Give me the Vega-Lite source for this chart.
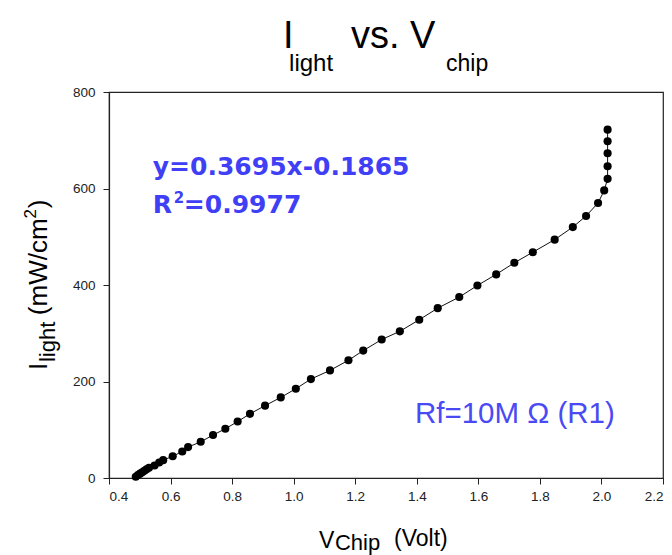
{
  "$schema": "https://vega.github.io/schema/vega-lite/v6.json",
  "width": 554,
  "height": 386,
  "autosize": {"type": "none"},
  "padding": {"left": 109, "top": 92, "right": 9, "bottom": 77},
  "background": "white",
  "config": {
    "view": {"stroke": "#222222", "strokeWidth": 1.2},
    "font": "Liberation Sans",
    "axis": {
      "grid": false,
      "domainColor": "#222222",
      "domainWidth": 1.2,
      "tickColor": "#222222",
      "tickSize": 6,
      "labelColor": "#222222",
      "labelFont": "Liberation Sans",
      "labelFontSize": 13.5,
      "title": null
    }
  },
  "datasets": {
    "curve": [
      {"k": 1, "v": 0.487, "i": 2.7},
      {"k": 2, "v": 0.494, "i": 6},
      {"k": 3, "v": 0.501, "i": 9},
      {"k": 4, "v": 0.508, "i": 12},
      {"k": 5, "v": 0.515, "i": 15},
      {"k": 6, "v": 0.522, "i": 18},
      {"k": 7, "v": 0.530, "i": 21},
      {"k": 8, "v": 0.548, "i": 26},
      {"k": 9, "v": 0.563, "i": 32},
      {"k": 10, "v": 0.576, "i": 37},
      {"k": 11, "v": 0.607, "i": 45},
      {"k": 12, "v": 0.638, "i": 55},
      {"k": 13, "v": 0.657, "i": 64},
      {"k": 14, "v": 0.698, "i": 75},
      {"k": 15, "v": 0.738, "i": 89},
      {"k": 16, "v": 0.778, "i": 102},
      {"k": 17, "v": 0.818, "i": 117},
      {"k": 18, "v": 0.858, "i": 133},
      {"k": 19, "v": 0.907, "i": 150},
      {"k": 20, "v": 0.958, "i": 167},
      {"k": 21, "v": 1.007, "i": 185},
      {"k": 22, "v": 1.056, "i": 205},
      {"k": 23, "v": 1.118, "i": 223},
      {"k": 24, "v": 1.178, "i": 244},
      {"k": 25, "v": 1.226, "i": 264},
      {"k": 26, "v": 1.286, "i": 287},
      {"k": 27, "v": 1.345, "i": 304},
      {"k": 28, "v": 1.408, "i": 328},
      {"k": 29, "v": 1.468, "i": 352},
      {"k": 30, "v": 1.538, "i": 375},
      {"k": 31, "v": 1.597, "i": 399},
      {"k": 32, "v": 1.658, "i": 422},
      {"k": 33, "v": 1.717, "i": 446},
      {"k": 34, "v": 1.777, "i": 468},
      {"k": 35, "v": 1.848, "i": 494},
      {"k": 36, "v": 1.907, "i": 520},
      {"k": 37, "v": 1.950, "i": 543},
      {"k": 38, "v": 1.989, "i": 570},
      {"k": 39, "v": 2.009, "i": 596},
      {"k": 40, "v": 2.020, "i": 620},
      {"k": 41, "v": 2.020, "i": 646},
      {"k": 42, "v": 2.020, "i": 673},
      {"k": 43, "v": 2.020, "i": 698},
      {"k": 44, "v": 2.020, "i": 722}
    ]
  },
  "layer": [
    {
      "data": {"name": "curve"},
      "mark": {"type": "line", "color": "#111111", "strokeWidth": 1},
      "encoding": {
        "x": {"field": "v", "type": "quantitative", "scale": {"domain": [0.4, 2.2], "nice": false, "zero": false},
              "axis": {"values": [0.4, 0.6, 0.8, 1.0, 1.2, 1.4, 1.6, 1.8, 2.0, 2.2], "format": ".1f", "labelPadding": 5}},
        "y": {"field": "i", "type": "quantitative", "scale": {"domain": [0, 800], "nice": false},
              "axis": {"values": [0, 200, 400, 600, 800], "labelPadding": 8}},
        "order": {"field": "k", "type": "quantitative"}
      }
    },
    {
      "data": {"name": "curve"},
      "mark": {"type": "point", "filled": true, "color": "black", "size": 66, "opacity": 1},
      "encoding": {
        "x": {"field": "v", "type": "quantitative"},
        "y": {"field": "i", "type": "quantitative"}
      }
    },
    {
      "data": {"values": [{}]},
      "mark": {"type": "text", "text": "I", "fontSize": 38, "align": "left", "baseline": "alphabetic", "color": "black"},
      "encoding": {"x": {"datum": 0.965}, "y": {"datum": 892}}
    },
    {
      "data": {"values": [{}]},
      "mark": {"type": "text", "text": "light", "fontSize": 24, "align": "left", "baseline": "alphabetic", "color": "black"},
      "encoding": {"x": {"datum": 0.985}, "y": {"datum": 843}}
    },
    {
      "data": {"values": [{}]},
      "mark": {"type": "text", "text": "vs. V", "fontSize": 38, "align": "left", "baseline": "alphabetic", "color": "black"},
      "encoding": {"x": {"datum": 1.186}, "y": {"datum": 892}}
    },
    {
      "data": {"values": [{}]},
      "mark": {"type": "text", "text": "chip", "fontSize": 23, "align": "left", "baseline": "alphabetic", "color": "black"},
      "encoding": {"x": {"datum": 1.495}, "y": {"datum": 843}}
    },
    {
      "data": {"values": [{}]},
      "mark": {"type": "text", "text": "V", "fontSize": 23, "align": "left", "baseline": "alphabetic", "color": "black"},
      "encoding": {"x": {"datum": 1.082}, "y": {"datum": -145}}
    },
    {
      "data": {"values": [{}]},
      "mark": {"type": "text", "text": "Chip", "fontSize": 22, "align": "left", "baseline": "alphabetic", "color": "black"},
      "encoding": {"x": {"datum": 1.134}, "y": {"datum": -149}}
    },
    {
      "data": {"values": [{}]},
      "mark": {"type": "text", "text": "(Volt)", "fontSize": 23, "align": "left", "baseline": "alphabetic", "color": "black"},
      "encoding": {"x": {"datum": 1.326}, "y": {"datum": -141}}
    },
    {
      "data": {"values": [{}]},
      "mark": {"type": "text", "text": "I", "fontSize": 26, "angle": 270, "align": "left", "baseline": "alphabetic", "color": "black"},
      "encoding": {"x": {"datum": 0.1977}, "y": {"datum": 223.6}}
    },
    {
      "data": {"values": [{}]},
      "mark": {"type": "text", "text": "light", "fontSize": 22, "angle": 270, "align": "left", "baseline": "alphabetic", "color": "black"},
      "encoding": {"x": {"datum": 0.2237}, "y": {"datum": 240.2}}
    },
    {
      "data": {"values": [{}]},
      "mark": {"type": "text", "text": "(mW/cm", "fontSize": 26, "angle": 270, "align": "left", "baseline": "alphabetic", "color": "black"},
      "encoding": {"x": {"datum": 0.1977}, "y": {"datum": 337.5}}
    },
    {
      "data": {"values": [{}]},
      "mark": {"type": "text", "text": "2", "fontSize": 17, "angle": 270, "align": "left", "baseline": "alphabetic", "color": "black"},
      "encoding": {"x": {"datum": 0.164}, "y": {"datum": 538}}
    },
    {
      "data": {"values": [{}]},
      "mark": {"type": "text", "text": ")", "fontSize": 26, "angle": 270, "align": "left", "baseline": "alphabetic", "color": "black"},
      "encoding": {"x": {"datum": 0.1977}, "y": {"datum": 559}}
    },
    {
      "data": {"values": [{}]},
      "mark": {"type": "text", "text": "y=0.3695x-0.1865", "font": "DejaVu Sans", "fontSize": 25, "fontWeight": "bold", "align": "left", "baseline": "alphabetic", "color": "#3f3ff5"},
      "encoding": {"x": {"datum": 0.5424}, "y": {"datum": 627}}
    },
    {
      "data": {"values": [{}]},
      "mark": {"type": "text", "text": "R", "font": "DejaVu Sans", "fontSize": 25, "fontWeight": "bold", "align": "left", "baseline": "alphabetic", "color": "#3f3ff5"},
      "encoding": {"x": {"datum": 0.5424}, "y": {"datum": 548.6}}
    },
    {
      "data": {"values": [{}]},
      "mark": {"type": "text", "text": "2", "font": "DejaVu Sans", "fontSize": 15, "fontWeight": "bold", "align": "left", "baseline": "alphabetic", "color": "#3f3ff5"},
      "encoding": {"x": {"datum": 0.6107}, "y": {"datum": 569}}
    },
    {
      "data": {"values": [{}]},
      "mark": {"type": "text", "text": "=0.9977", "font": "DejaVu Sans", "fontSize": 25, "fontWeight": "bold", "align": "left", "baseline": "alphabetic", "color": "#3f3ff5"},
      "encoding": {"x": {"datum": 0.6432}, "y": {"datum": 548.6}}
    },
    {
      "data": {"values": [{}]},
      "mark": {"type": "text", "text": "Rf=10M Ω (R1)", "fontSize": 29.5, "align": "left", "baseline": "alphabetic", "color": "#4a4af5"},
      "encoding": {"x": {"datum": 1.394}, "y": {"datum": 114}}
    }
  ]
}
